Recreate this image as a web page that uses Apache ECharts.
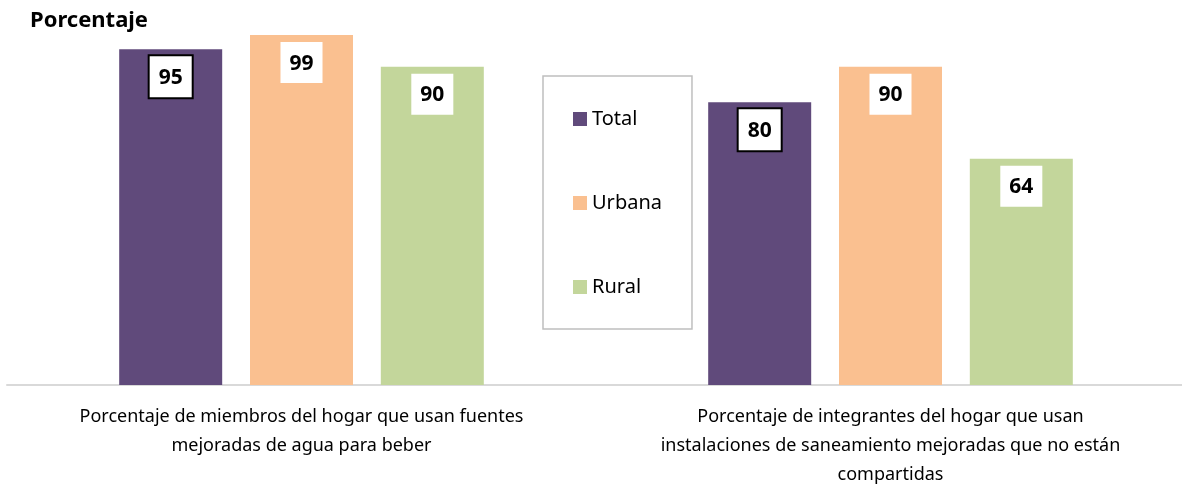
<!DOCTYPE html>
<html><head><meta charset="utf-8">
<script src="https://cdn.jsdelivr.net/npm/echarts@6/dist/echarts.min.js"></script>
<style>html,body{margin:0;padding:0;background:#fff}#c{width:1182px;height:492px}</style>
</head><body><div id="c"></div>
<script>
const categories = [
  'Porcentaje de miembros del hogar que usan fuentes\nmejoradas de agua para beber',
  'Porcentaje de integrantes del hogar que usan\ninstalaciones de saneamiento mejoradas que no están\ncompartidas'
];
const seriesNames = ['Total', 'Urbana', 'Rural'];
const totalValues = [95, 80];
const urbanaValues = [99, 90];
const ruralValues = [90, 64];
const colors = ['#604A7B', '#FAC090', '#C3D69B'];
const FONT = '"Noto Sans", "Open Sans", sans-serif';

function lab(bordered) {
  return {
    show: true, position: 'insideTop', distance: 7,
    fontFamily: FONT, fontWeight: 'bold', fontSize: 21, color: '#000',
    backgroundColor: '#fff', padding: [11, 9, 9, 9],
    borderColor: bordered ? '#000' : 'transparent', borderWidth: bordered ? 2 : 0
  };
}
const values = [totalValues, urbanaValues, ruralValues];
const chart = echarts.init(document.getElementById('c'), null, {renderer: 'canvas'});
chart.setOption({
  animation: false,
  title: {text: 'Porcentaje', left: 25, top: 5,
    textStyle: {fontFamily: FONT, fontWeight: 'bold', fontSize: 22, color: '#000'}},
  legend: {
    orient: 'vertical', left: 543, top: 76,
    padding: [32, 30, 31, 30], itemGap: 62, itemWidth: 14, itemHeight: 14,
    borderColor: '#BFBFBF', borderWidth: 1.5, backgroundColor: '#fff',
    icon: 'rect',
    textStyle: {fontFamily: FONT, fontSize: 20, color: '#000', lineHeight: 22},
    data: seriesNames
  },
  grid: {left: 7, width: 1178, top: 31.5, bottom: 107, containLabel: false, outerBoundsMode: 'none'},
  xAxis: {
    type: 'category', data: categories,
    axisLine: {show: true, lineStyle: {color: '#D9D9D9', width: 2}},
    axisTick: {show: false},
    axisLabel: {interval: 0, margin: 17, fontFamily: FONT, fontSize: 18, color: '#000', lineHeight: 29}
  },
  yAxis: {type: 'value', min: 0, max: 100, show: false, splitLine: {show: false}},
  series: seriesNames.map((n, i) => ({
    name: n, type: 'bar', data: values[i], barWidth: 103, barGap: '27%',
    itemStyle: {color: colors[i]},
    label: lab(i === 0)
  }))
});
</script></body></html>
